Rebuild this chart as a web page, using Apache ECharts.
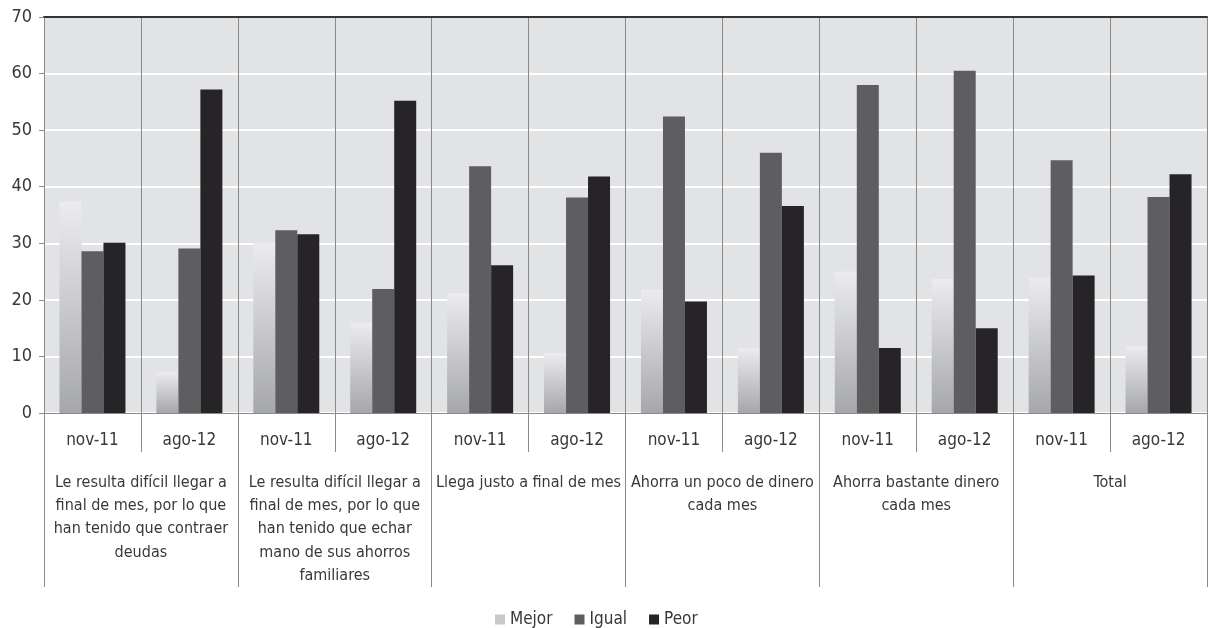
<!DOCTYPE html>
<html>
<head>
<meta charset="utf-8">
<script src="https://cdn.jsdelivr.net/npm/echarts@6/dist/echarts.min.js"></script>
<style>
html,body{margin:0;padding:0;background:#fff;}
#c{width:1208px;height:628px;}
</style>
</head>
<body>
<div id="c"></div>
<script>
const periods = ['nov-11','ago-12','nov-11','ago-12','nov-11','ago-12','nov-11','ago-12','nov-11','ago-12','nov-11','ago-12'];
const groups = [
  'Le resulta difícil llegar a\nfinal de mes, por lo que\nhan tenido que contraer\ndeudas',
  'Le resulta difícil llegar a\nfinal de mes, por lo que\nhan tenido que echar\nmano de sus ahorros\nfamiliares',
  'Llega justo a final de mes',
  'Ahorra un poco de dinero\ncada mes',
  'Ahorra bastante dinero\ncada mes',
  'Total'
];
const seriesNames = ['Mejor','Igual','Peor'];
const mejor = [37.4, 7.3, 30.1, 16.0, 21.2, 10.6, 21.8, 11.5, 25.0, 23.7, 23.9, 11.8];
const igual = [28.6, 29.1, 32.3, 21.9, 43.6, 38.1, 52.4, 46.0, 58.0, 60.5, 44.7, 38.2];
const peor  = [30.1, 57.2, 31.6, 55.2, 26.1, 41.8, 19.7, 36.6, 11.5, 15.0, 24.3, 42.2];
const yTicks = [0,10,20,30,40,50,60,70];

const FONT = '"Liberation Sans Narrow", "DejaVu Sans Condensed", "Liberation Sans", sans-serif';
const TXT = '#383838';
const chart = echarts.init(document.getElementById('c'));
const mejorGrad = new echarts.graphic.LinearGradient(0,0,0,1,[
  {offset:0,color:'#ececee'},{offset:1,color:'#a6a7ab'}
]);
chart.setOption({
  animation:false,
  backgroundColor:'#ffffff',
  textStyle:{fontFamily:FONT},
  grid:{left:44,right:1,top:17,bottom:215,show:true,backgroundColor:'#e2e3e5',borderWidth:0},
  legend:{
    left:490, top:606, itemWidth:10, itemHeight:10, itemGap:22, icon:'rect',
    textStyle:{fontFamily:FONT,fontSize:17,color:TXT},
    data:[
      {name:'Mejor',itemStyle:{color:'#c9c9cb'}},
      {name:'Igual',itemStyle:{color:'#5e5e60'}},
      {name:'Peor',itemStyle:{color:'#262426'}}
    ]
  },
  xAxis:[
    {
      type:'category', data:periods, position:'bottom',
      axisLine:{show:true,lineStyle:{color:'#8a8a8a',width:1}},
      axisTick:{show:true,interval:0,length:39,lineStyle:{color:'#8a8a8a'}},
      axisLabel:{interval:0,margin:18,fontSize:17,lineHeight:20,color:TXT,fontFamily:FONT},
      splitLine:{show:true,interval:0,lineStyle:{color:'#8a8a8a',width:1}}
    },
    {
      type:'category', data:groups, position:'bottom',
      axisLine:{show:false},
      axisTick:{show:true,interval:0,length:174,lineStyle:{color:'#8a8a8a'}},
      axisLabel:{interval:0,margin:58,fontSize:16,lineHeight:23.3,color:TXT,fontFamily:FONT,verticalAlign:'top'},
      splitLine:{show:false}
    },
    {
      type:'category', data:periods, position:'top',
      axisLine:{show:true,lineStyle:{color:'#333333',width:2}},
      axisTick:{show:false}, axisLabel:{show:false}, splitLine:{show:false}
    }
  ],
  yAxis:{
    type:'value', min:0, max:70, interval:10,
    axisLine:{show:true,lineStyle:{color:'#8a8a8a'}},
    axisTick:{show:true,length:5,lineStyle:{color:'#8a8a8a'}},
    axisLabel:{fontSize:18,color:TXT,margin:12,fontFamily:FONT,
      formatter:v=>yTicks.includes(v)?String(v):''},
    splitLine:{show:true,lineStyle:{color:'#ffffff',width:2}}
  },
  series:[
    {name:seriesNames[0],type:'bar',data:mejor,barWidth:22,barGap:'0%',itemStyle:{color:mejorGrad}},
    {name:seriesNames[1],type:'bar',data:igual,barWidth:22,barGap:'0%',itemStyle:{color:'#5e5e60'}},
    {name:seriesNames[2],type:'bar',data:peor,barWidth:22,barGap:'0%',itemStyle:{color:'#262426'}}
  ]
});
</script>
</body>
</html>
